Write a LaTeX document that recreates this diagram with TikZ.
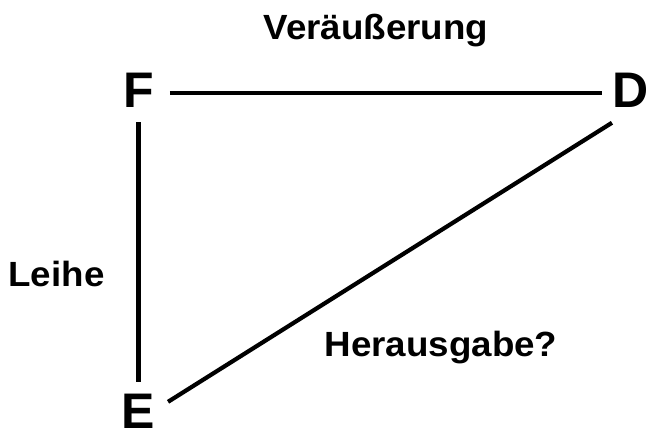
\documentclass[tikz,border=0pt]{standalone}
\usepackage{fontspec}
\setmainfont{Liberation Sans}
\begin{document}
\begin{tikzpicture}[x=1pt,y=1pt,
  big/.style={font=\fontsize{50}{60}\selectfont\bfseries, inner sep=0pt, anchor=base},
  lab/.style={font=\fontsize{35}{42}\selectfont\bfseries, inner sep=0pt, anchor=base, xscale=1.05},
  conn/.style={line width=4.2pt}]
\useasboundingbox (0,0) rectangle (646,428);
\node[big] (F) at (138.5,320) {F};
\node[big] (D) at (631,320) {D};
\node[big] (E) at (138.5,-1) {E};
\node[lab] (ver) at (376,388) {Veräußerung};
\node[lab] (lei) at (56.5,141) {Leihe};
\node[lab] (her) at (441,71) {Herausgabe?};
\draw[conn, shorten <=16pt, shorten >=11pt] ([yshift=-2pt]F.east) -- ([yshift=-2pt]D.west);
\draw[conn, shorten <=14pt, shorten >=12pt] (F.south) -- (E.north);
\draw[conn, shorten <=34.9pt, shorten >=22.5pt] ([yshift=-8.6pt]E.center) -- ([yshift=-20pt]D.center);
\end{tikzpicture}
\end{document}
